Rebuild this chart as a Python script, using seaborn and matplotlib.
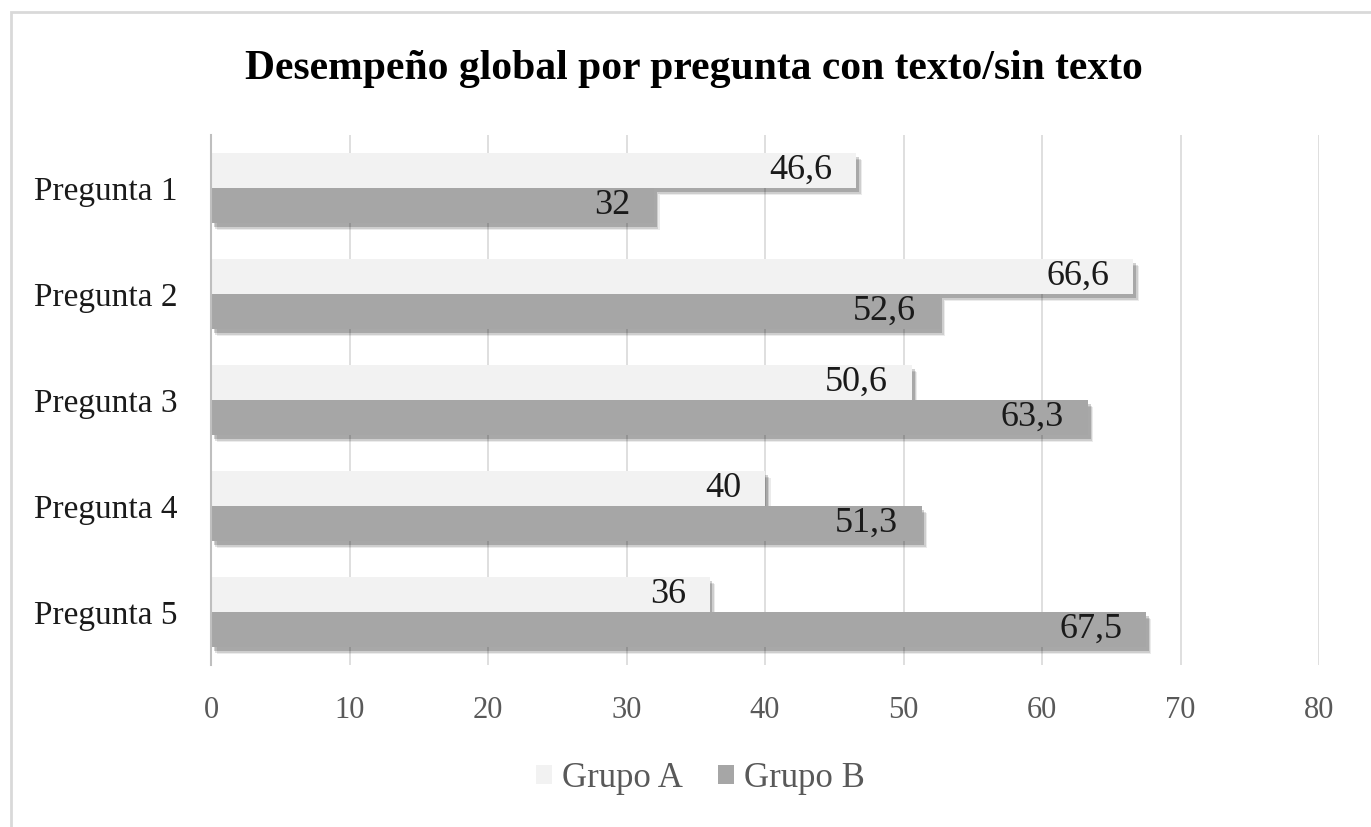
import matplotlib
matplotlib.use("Agg")
import matplotlib.pyplot as plt
import matplotlib.patheffects as pe
from matplotlib.patches import Rectangle
import pandas as pd
import seaborn as sns

preguntas = ["Pregunta 1", "Pregunta 2", "Pregunta 3", "Pregunta 4", "Pregunta 5"]
grupo_a = [46.6, 66.6, 50.6, 40, 36]
grupo_b = [32, 52.6, 63.3, 51.3, 67.5]
grupos = ["Grupo A", "Grupo B"]
colores = ["#f2f2f2", "#a6a6a6"]
x_ticks = [0, 10, 20, 30, 40, 50, 60, 70, 80]
titulo = "Desempeño global por pregunta con texto/sin texto"

df = pd.DataFrame({
    "Pregunta": preguntas * 2,
    "Valor": grupo_a + grupo_b,
    "Grupo": [grupos[0]] * len(preguntas) + [grupos[1]] * len(preguntas),
})

sns.set_theme(style="white")
plt.rcParams["font.family"] = ["Liberation Serif", "DejaVu Serif"]

fig = plt.figure(figsize=(13.71, 8.27), dpi=100)
ax = fig.add_axes([0.1539, 0.1959, 0.8082, 0.6409])

sns.barplot(data=df, y="Pregunta", x="Valor", hue="Grupo", orient="h",
            palette=colores, width=0.66, saturation=1,
            edgecolor="none", linewidth=0, ax=ax, legend=True)

# soft drop shadow under every bar
shadow = [
    pe.SimplePatchShadow(offset=(4, -5), shadow_rgbFace="black", alpha=0.08),
    pe.SimplePatchShadow(offset=(3, -4), shadow_rgbFace="black", alpha=0.12),
    pe.SimplePatchShadow(offset=(2, -3), shadow_rgbFace="black", alpha=0.18),
    pe.Normal(),
]
for cont in ax.containers:
    for p in cont:
        p.set_path_effects(shadow)

for cont in ax.containers:
    labels = [f"{v:g}".replace(".", ",") for v in cont.datavalues]
    anns = ax.bar_label(cont, labels=labels, padding=-17, fontsize=26,
                        color="#1a1a1a")
    for a in anns:
        a.set_ha("right")

ax.set_xlim(0, 80)
ax.set_ylim(4.5, -0.5)
ax.set_xticks(x_ticks)
ax.set_xticklabels([str(t) for t in x_ticks])
ax.set_xlabel("")
ax.set_ylabel("")
ax.grid(axis="x", color="#d9d9d9", linewidth=1.2)
ax.grid(axis="y", visible=False)
ax.set_axisbelow(True)
for s in ["top", "right", "bottom"]:
    ax.spines[s].set_visible(False)
ax.spines["left"].set_color("#bfbfbf")
ax.spines["left"].set_linewidth(1.5)
ax.tick_params(axis="x", length=0, pad=22, labelsize=22, labelcolor="#595959")
ax.tick_params(axis="y", length=0, pad=24, labelsize=24, labelcolor="#1a1a1a")

ax.legend_.remove()
handles = [Rectangle((0, 0), 1, 1, facecolor=c, edgecolor="none") for c in colores]
fig.legend(handles, grupos, loc="center", bbox_to_anchor=(0.511, 0.059),
           ncol=2, frameon=False, fontsize=25, labelcolor="#595959",
           handlelength=0.45, handleheight=0.45, handletextpad=0.3,
           columnspacing=1.0)

fig.text(0.506, 0.917, titulo, ha="center", va="center", fontsize=30,
         fontweight="bold", color="black")

fig.patches.append(Rectangle((0.008, -0.1), 1.2, 1.086, transform=fig.transFigure,
                             fill=False, edgecolor="#d9d9d9", linewidth=2))

fig.savefig("out.png", dpi=100, facecolor="white")
